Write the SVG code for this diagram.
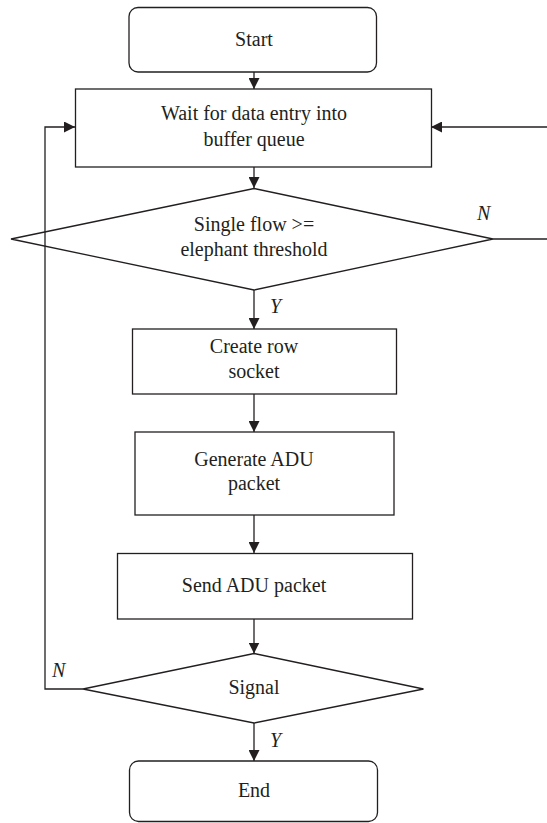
<svg xmlns="http://www.w3.org/2000/svg" width="547" height="823" viewBox="0 0 547 823">
<style>
.s{fill:#fff;stroke:#231f20;stroke-width:1.3}
.n{fill:none;stroke:#231f20;stroke-width:1.3}
.c{fill:none;stroke:#231f20;stroke-width:1.3}
text{font-family:"Liberation Serif","Times New Roman",serif;font-size:20px;fill:#231f20;text-anchor:middle}
.l{font-style:italic;text-anchor:start}
</style>
<defs>
<marker id="a" markerWidth="11" markerHeight="11" refX="11" refY="5.5" orient="auto" markerUnits="userSpaceOnUse">
<path d="M0,0 L11,5.5 L0,11 Z" fill="#231f20"/>
</marker>
</defs>
<rect width="547" height="823" fill="#fff"/>
<g id="start">
<rect class="s" x="129" y="7.5" width="247.5" height="64.5" rx="9"/>
<text x="254" y="46">Start</text>
</g>
<g id="wait">
<rect class="s" x="75.5" y="89" width="356" height="78"/>
<text x="254" y="120">Wait for data entry into</text>
<text x="254" y="146">buffer queue</text>
</g>
<g id="decision1">
<polygon class="n" points="254,188.5 493,239 254,290 11,239"/>
<text x="254" y="231">Single flow &gt;=</text>
<text x="254" y="256">elephant threshold</text>
</g>
<g id="create">
<rect class="s" x="132.5" y="329" width="264" height="65"/>
<text x="254" y="353">Create row</text>
<text x="254" y="378">socket</text>
</g>
<g id="generate">
<rect class="s" x="135" y="432" width="259" height="83"/>
<text x="254" y="466">Generate ADU</text>
<text x="254" y="490">packet</text>
</g>
<g id="send">
<rect class="s" x="117.5" y="553.5" width="295" height="65.5"/>
<text x="254" y="592">Send ADU packet</text>
</g>
<g id="signal">
<polygon class="s" points="254,653.5 423.5,689 254,723 83,689"/>
<text x="254" y="694">Signal</text>
</g>
<g id="end">
<rect class="s" x="129.5" y="761" width="248" height="60.5" rx="9"/>
<text x="254" y="797">End</text>
</g>
<g id="connectors">
<line class="c" x1="254" y1="72" x2="254" y2="89" marker-end="url(#a)"/>
<line class="c" x1="254" y1="167" x2="254" y2="188" marker-end="url(#a)"/>
<line class="c" x1="254" y1="290" x2="254" y2="329" marker-end="url(#a)"/>
<line class="c" x1="254" y1="394" x2="254" y2="432" marker-end="url(#a)"/>
<line class="c" x1="254" y1="515" x2="254" y2="553" marker-end="url(#a)"/>
<line class="c" x1="254" y1="619" x2="254" y2="653.5" marker-end="url(#a)"/>
<line class="c" x1="254" y1="723" x2="254" y2="761" marker-end="url(#a)"/>
<polyline class="c" points="83,689 45,689 45,127 75,127" marker-end="url(#a)"/>
<line class="c" x1="493" y1="239" x2="547" y2="239"/>
<line class="c" x1="547" y1="127" x2="431" y2="127" marker-end="url(#a)"/>
<text class="l" x="477" y="220">N</text>
<text class="l" x="270" y="313">Y</text>
<text class="l" x="52" y="677">N</text>
<text class="l" x="270" y="747">Y</text>
</g>
</svg>
